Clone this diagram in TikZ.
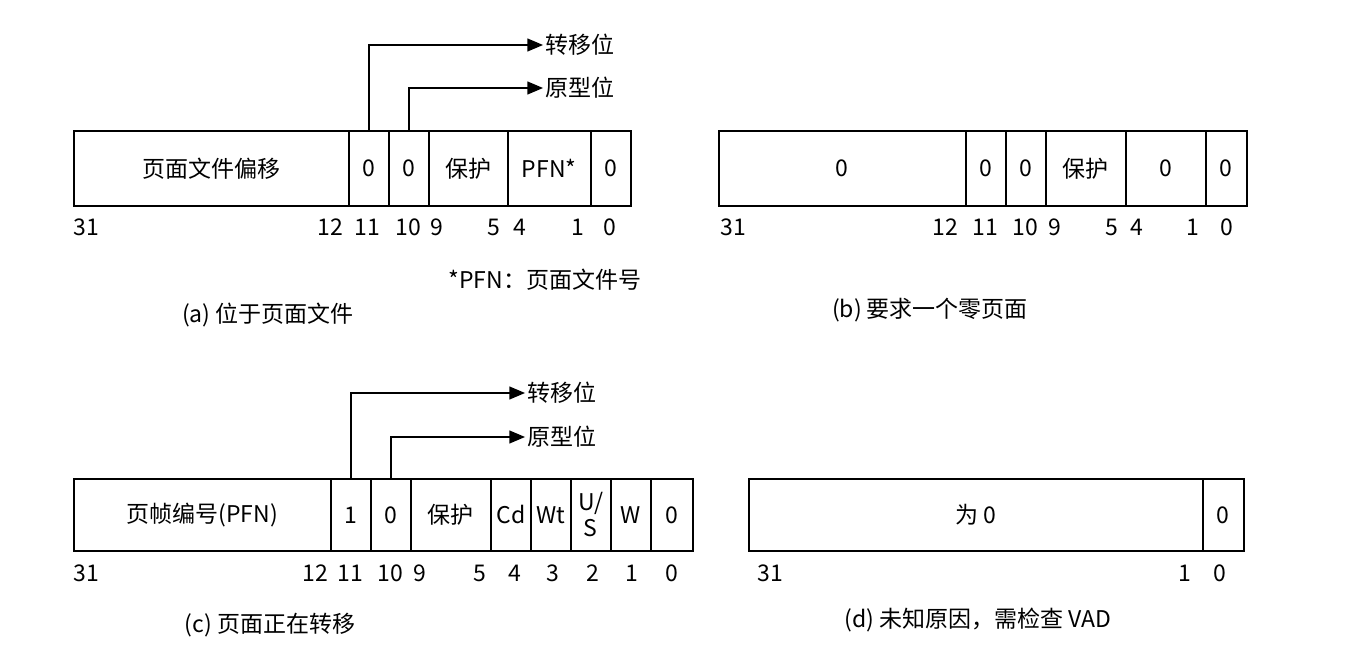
\documentclass[tikz,border=0pt]{standalone}
\usepackage{fontspec}
\setmainfont{Noto Sans CJK SC}
\usetikzlibrary{arrows}
\begin{document}
\begin{tikzpicture}[x=0.5pt, y=-0.5pt, >=triangle 45, font=\fontsize{11.5}{13}\selectfont]
	\tikzstyle{cell} = [draw, thick, anchor=north west, inner sep=0pt, align=center]
	\tikzstyle{bit} = [inner sep=0pt]
	\tikzstyle{tag} = [anchor=west, inner sep=1pt]
	\useasboundingbox (0,0) rectangle (1360,663);

	% (a) in the paging file
	\foreach \n/\x/\w/\t in {a1/73/275/页面文件偏移, a2/348/40/0, a3/388/40/0, a4/428/79/保护, a5/507/83/PFN*, a6/590/40/0}
		\node[cell, minimum width=\w*0.5pt, minimum height=37.5pt] (\n) at (\x,130) {\t};
	\foreach \x/\t in {86/31, 330/12, 367/11, 408/10, 437/9, 494/5, 520/4, 578/1, 610/0}
		\node[bit] at (\x,227) {\t};
	\node[tag] (at) at (543,45) {转移位};
	\node[tag] (ap) at (543,88) {原型位};
	\draw[->, thick] (a2.north) |- (at.west);
	\draw[->, thick] (a3.north) |- (ap.west);
	\node at (545,280) {*PFN：页面文件号};
	\node at (268,315) {(a) 位于页面文件};

	% (b) demand zero page
	\foreach \n/\x/\w/\t in {b1/718/247/0, b2/965/40/0, b3/1005/40/0, b4/1045/80/保护, b5/1125/80/0, b6/1205/41/0}
		\node[cell, minimum width=\w*0.5pt, minimum height=37.5pt] (\n) at (\x,130) {\t};
	\foreach \x/\t in {733/31, 945/12, 985/11, 1025/10, 1055/9, 1112/5, 1137/4, 1193/1, 1227/0}
		\node[bit] at (\x,227) {\t};
	\node at (930,310) {(b) 要求一个零页面};

	% (c) page in transition
	\foreach \n/\x/\w/\t in {c1/73/257/页帧编号(PFN), c2/330/40/1, c3/370/40/0, c4/410/80/保护, c5/490/40/Cd, c6/530/40/Wt, c7/570/40/{U/\\S}, c8/610/40/W, c9/650/42/0}
		\node[cell, minimum width=\w*0.5pt, minimum height=36pt] (\n) at (\x,478) {\t};
	\foreach \x/\t in {86/31, 315/12, 350/11, 390/10, 420/9, 480/5, 515/4, 553/3, 593/2, 632/1, 672/0}
		\node[bit] at (\x,573) {\t};
	\node[tag] (ct) at (525,393) {转移位};
	\node[tag] (cp) at (525,437) {原型位};
	\draw[->, thick] (c2.north) |- (ct.west);
	\draw[->, thick] (c3.north) |- (cp.west);
	\node at (270,625) {(c) 页面正在转移};

	% (d) unknown
	\node[cell, minimum width=227pt, minimum height=36pt] (d1) at (748,478) {为 0};
	\node[cell, minimum width=20.5pt, minimum height=36pt] (d2) at (1202,478) {0};
	\foreach \x/\t in {770/31, 1185/1, 1220/0}
		\node[bit] at (\x,573) {\t};
	\node at (978,620) {(d) 未知原因，需检查 VAD};
\end{tikzpicture}
\end{document}
